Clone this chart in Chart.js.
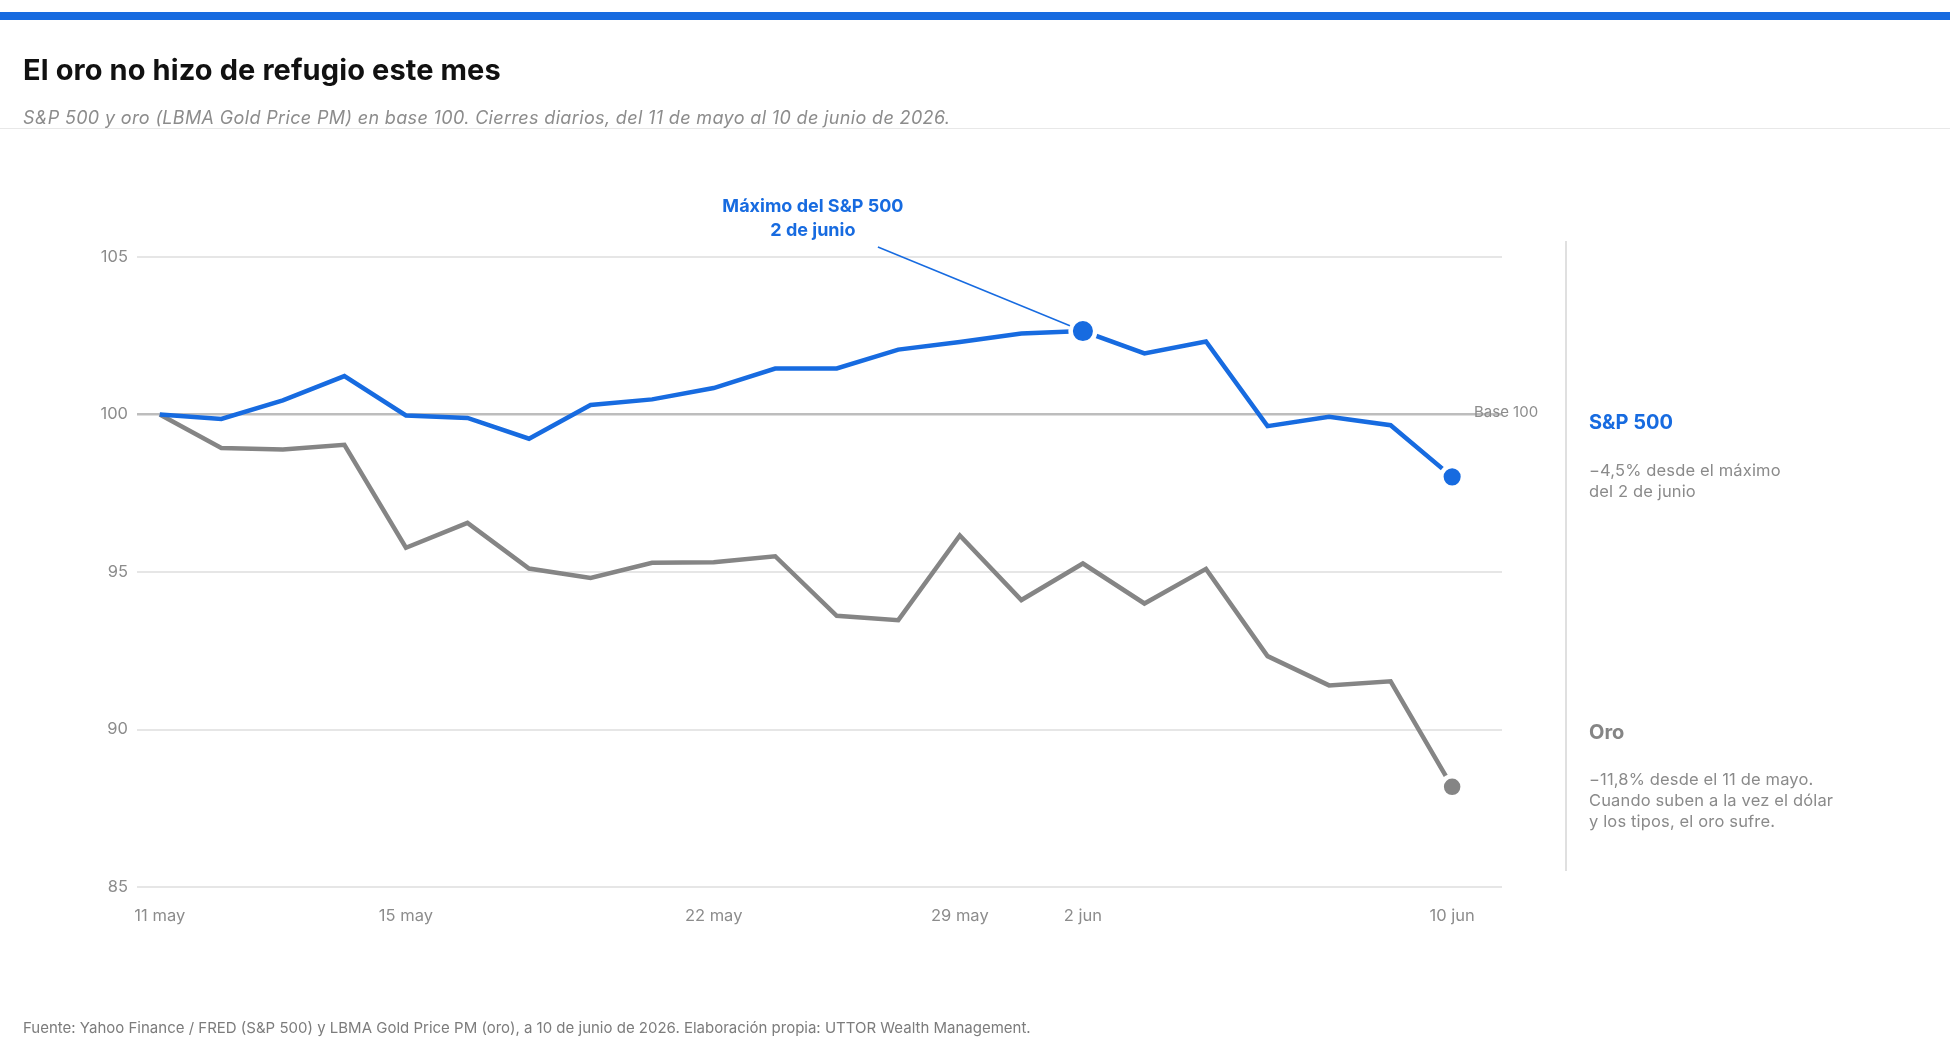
<!DOCTYPE html>
<html lang="es">
<head>
<meta charset="utf-8">
<title>El oro no hizo de refugio este mes</title>
<script src="https://cdn.jsdelivr.net/npm/chart.js@4.4.1/dist/chart.umd.min.js"></script>
<style>
  html, body { margin: 0; padding: 0; background: #fff; }
  body { width: 1950px; height: 1050px; position: relative; overflow: hidden; font-family: Inter, "Noto Sans", sans-serif; }
  #chart { position: absolute; left: 0; top: 0; }
  .abs { position: absolute; white-space: nowrap; }
  #bar { left: 0; top: 12px; width: 1950px; height: 8px; background: #176be0; }
  #title { left: 23px; top: 52px; font-size: 29px; line-height: 36px; font-weight: 700; color: #111; letter-spacing: 0.1px; }
  #subtitle { left: 23px; top: 107px; font-size: 18px; line-height: 22px; font-style: italic; color: #8c8c8c; letter-spacing: 0.35px; }
  #sep { left: 0; top: 128px; width: 1950px; height: 1px; background: #e8e8e8; }
  #divider { left: 1565px; top: 241px; width: 2px; height: 630px; background: #e0e0e0; }
  .side-head { font-size: 20px; line-height: 24px; font-weight: 700; }
  .side-text { font-size: 16.5px; line-height: 21px; color: #8a8a8a; letter-spacing: 0.15px; }
  #footer { left: 23px; top: 1018px; font-size: 15px; line-height: 20px; color: #7c7c7c; }
</style>
</head>
<body>
<canvas id="chart" width="1950" height="1050"></canvas>
<div id="bar" class="abs"></div>
<div id="title" class="abs">El oro no hizo de refugio este mes</div>
<div id="subtitle" class="abs">S&amp;P 500 y oro (LBMA Gold Price PM) en base 100. Cierres diarios, del 11 de mayo al 10 de junio de 2026.</div>
<div id="sep" class="abs"></div>
<div id="divider" class="abs"></div>
<div class="abs side-head" style="left:1589px; top:410px; color:#176be0;">S&amp;P 500</div>
<div class="abs side-text" style="left:1589px; top:460px;">−4,5% desde el máximo<br>del 2 de junio</div>
<div class="abs side-head" style="left:1589px; top:720px; color:#858585;">Oro</div>
<div class="abs side-text" style="left:1589px; top:769px;">−11,8% desde el 11 de mayo.<br>Cuando suben a la vez el dólar<br>y los tipos, el oro sufre.</div>
<div id="footer" class="abs">Fuente: Yahoo Finance / FRED (S&amp;P 500) y LBMA Gold Price PM (oro), a 10 de junio de 2026. Elaboración propia: UTTOR Wealth Management.</div>

<script>
// sesiones del 11 de mayo al 10 de junio de 2026 (sin fines de semana ni Memorial Day)
const dayLabels = ['11 may', '12 may', '13 may', '14 may', '15 may', '18 may', '19 may', '20 may', '21 may', '22 may',
  '26 may', '27 may', '28 may', '29 may', '1 jun', '2 jun', '3 jun', '4 jun', '5 jun', '8 jun', '9 jun', '10 jun'];
const tickDays = [0, 4, 9, 13, 15, 21];
const yTicks = [85, 90, 95, 100, 105];

// base 100 = 11 de mayo
const sp500 = [100, 99.86, 100.45, 101.22, 99.97, 99.89, 99.23, 100.30, 100.48, 100.84, 101.46,
  101.46, 102.06, 102.30, 102.57, 102.65, 101.94, 102.32, 99.63, 99.93, 99.66, 98.02];
const gold = [100, 98.94, 98.89, 99.04, 95.77, 96.56, 95.11, 94.81, 95.29, 95.31, 95.50,
  93.61, 93.47, 96.16, 94.11, 95.27, 94.00, 95.10, 92.33, 91.40, 91.53, 88.18];

const peakIdx = 15;
const lastIdx = dayLabels.length - 1;

const BLUE = '#176be0';
const GREY = '#858585';
const FONT = 'Inter, "Noto Sans", sans-serif';

const toPoints = arr => arr.map((v, i) => ({ x: i, y: v }));

// anotación del máximo y etiqueta "Base 100"
const notesPlugin = {
  id: 'notes',
  afterDatasetsDraw(chart) {
    const { ctx, chartArea, scales } = chart;
    const px = scales.x.getPixelForValue(peakIdx);
    const py = scales.y.getPixelForValue(sp500[peakIdx]);
    ctx.save();
    const tx = px - 270;
    ctx.fillStyle = BLUE;
    ctx.font = `700 18px ${FONT}`;
    ctx.textAlign = 'center';
    ctx.textBaseline = 'middle';
    ctx.fillText('Máximo del S&P 500', tx, chartArea.top - 50);
    ctx.fillText('2 de junio', tx, chartArea.top - 26);
    // línea guía
    const sx = tx + 65, sy = chartArea.top - 10;
    const dx = px - sx, dy = py - sy;
    const len = Math.hypot(dx, dy);
    ctx.strokeStyle = BLUE;
    ctx.lineWidth = 1.5;
    ctx.beginPath();
    ctx.moveTo(sx, sy);
    ctx.lineTo(px - dx / len * 14, py - dy / len * 14);
    ctx.stroke();
    // base 100
    const yb = scales.y.getPixelForValue(100);
    ctx.fillStyle = '#8c8c8c';
    ctx.font = `15px ${FONT}`;
    ctx.textAlign = 'left';
    ctx.fillText('Base 100', chartArea.right - 28, yb - 2);
    ctx.restore();
  }
};

new Chart(document.getElementById('chart'), {
  type: 'line',
  data: {
    datasets: [
      {
        label: 'S&P 500',
        data: toPoints(sp500),
        borderColor: BLUE,
        backgroundColor: BLUE,
        borderWidth: 4.5,
        tension: 0,
        pointRadius: c => c.dataIndex === peakIdx ? 12.3 : (c.dataIndex === lastIdx ? 10.8 : 0),
        pointBackgroundColor: BLUE,
        pointBorderColor: '#fff',
        pointBorderWidth: 4.5,
        order: 0
      },
      {
        label: 'Oro',
        data: toPoints(gold),
        borderColor: GREY,
        backgroundColor: GREY,
        borderWidth: 4.5,
        tension: 0,
        pointRadius: c => c.dataIndex === lastIdx ? 10.5 : 0,
        pointBackgroundColor: GREY,
        pointBorderColor: '#fff',
        pointBorderWidth: 4.5,
        order: 1
      }
    ]
  },
  options: {
    responsive: false,
    animation: false,
    events: [],
    layout: { padding: { top: 257, right: 448, bottom: 113, left: 0 } },
    plugins: {
      legend: { display: false },
      tooltip: { enabled: false }
    },
    scales: {
      x: {
        type: 'linear',
        min: -0.37,
        max: 21.81,
        afterBuildTicks: axis => { axis.ticks = tickDays.map(v => ({ value: v })); },
        afterFit: axis => { axis.height = 50; },
        grid: { display: false, drawTicks: false },
        border: { display: false },
        ticks: {
          autoSkip: false,
          maxRotation: 0,
          padding: 19,
          color: '#8c8c8c',
          font: { family: FONT, size: 16.5 },
          callback: v => dayLabels[v]
        }
      },
      y: {
        min: 85,
        max: 105,
        afterBuildTicks: axis => { axis.ticks = yTicks.map(v => ({ value: v })); },
        afterFit: axis => { axis.width = 137; },
        grid: {
          drawTicks: false,
          color: c => c.tick && c.tick.value === 100 ? '#bdbdbd' : '#e6e6e6',
          lineWidth: c => c.tick && c.tick.value === 100 ? 2.5 : 2
        },
        border: { display: false },
        ticks: {
          padding: 9,
          color: '#8c8c8c',
          font: { family: FONT, size: 16.5 }
        }
      }
    }
  },
  plugins: [notesPlugin]
});
</script>
</body>
</html>
